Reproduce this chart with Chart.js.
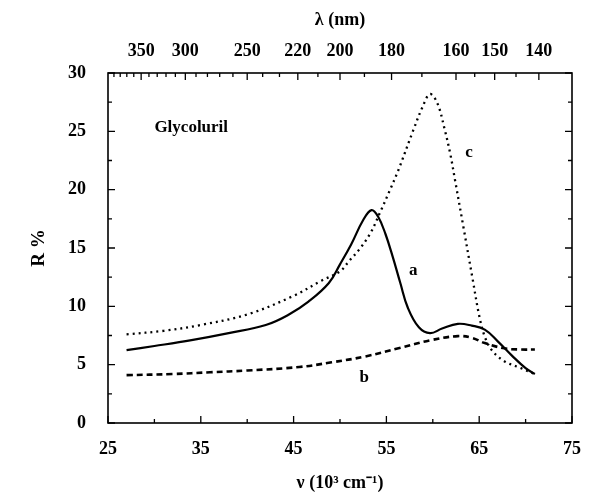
<!DOCTYPE html>
<html>
<head>
<meta charset="utf-8">
<script src="https://cdn.jsdelivr.net/npm/chart.js@4"></script>
<style>
  html, body { margin: 0; padding: 0; background: #fff; }
  #wrap { width: 589px; height: 498px; }
</style>
</head>
<body>
<div id="wrap"><canvas id="chart" width="589" height="498"></canvas></div>
<script>
// curve a (solid)
const aX = [27, 30, 34, 38, 42, 44.5, 46.6, 48.8, 50.0, 51.2, 52.5, 53.4, 54.1, 54.9, 55.7, 56.5, 57.3, 58.5, 59.7, 61.0, 62.7, 64.2, 65.6, 67.0, 68.5, 70.0, 71.0];
const aY = [6.25, 6.6, 7.1, 7.7, 8.4, 9.3, 10.4, 12.0, 13.6, 15.3, 17.4, 18.25, 17.7, 16.2, 14.2, 12.0, 9.9, 8.2, 7.7, 8.1, 8.5, 8.35, 8.0, 7.0, 5.8, 4.7, 4.2];
// curve b (dashed)
const bX = [27, 32, 36, 40, 45.6, 49.1, 52.7, 56.3, 59.8, 62.7, 64.2, 65.6, 67.7, 69.5, 71];
const bY = [4.1, 4.2, 4.35, 4.5, 4.8, 5.2, 5.7, 6.4, 7.1, 7.45, 7.3, 6.85, 6.4, 6.3, 6.3];
// curve c (dotted)
const cX = [27, 31, 35, 40, 45, 48, 50, 51, 52.2, 53.3, 54.4, 55.4, 56.3, 57.9, 58.9, 59.7, 60.5, 61.3, 61.9, 62.4, 63.3, 64.3, 65.0, 65.6, 66.4, 67.7, 69.5, 71];
const cY = [7.6, 7.9, 8.4, 9.3, 10.9, 12.2, 13.0, 13.9, 15.0, 16.3, 18.2, 20.0, 21.7, 25.1, 27.1, 28.2, 27.4, 25.1, 23.0, 20.8, 16.8, 12.3, 9.2, 7.4, 6.2, 5.3, 4.7, 4.2];

// axis ticks
const nuTicks = [25, 35, 45, 55, 65, 75];
const nuMinor = [30, 40, 50, 60, 70];
const rTicks = [0, 5, 10, 15, 20, 25, 30];
const rMinor = [2.5, 7.5, 12.5, 17.5, 22.5, 27.5];
const lambdaTicks = [350, 300, 250, 220, 200, 180, 160, 150, 140];
const lambdaMinor = [390, 380, 370, 360, 340, 330, 320, 310, 290, 280, 270, 260, 240, 230, 210, 190, 170, 155, 145];

const curveLabels = [
  { text: "Glycoluril", x: 30.0, y: 25.3, align: "left" },
  { text: "a", x: 57.9, y: 13.1, align: "center" },
  { text: "b", x: 52.6, y: 3.9, align: "center" },
  { text: "c", x: 63.9, y: 23.2, align: "center" }
];

const toPts = (xs, ys) => xs.map((x, i) => ({ x: x, y: ys[i] }));
const font = { family: "'Liberation Serif', 'Times New Roman', serif", weight: "bold", size: 18 };
const titleFont = { family: "'Liberation Serif', 'Times New Roman', serif", weight: "bold", size: 19 };

const frame = {
  id: "frame",
  afterDraw(chart) {
    const ctx = chart.ctx;
    const area = chart.chartArea;
    const sx = chart.scales.x, sy = chart.scales.y;
    ctx.save();
    ctx.strokeStyle = "#000";
    ctx.lineWidth = 1.6;
    ctx.strokeRect(area.left, area.top, area.right - area.left, area.bottom - area.top);
    ctx.lineWidth = 1.3;
    ctx.beginPath();
    const tickX = (v, len, top) => {
      const p = sx.getPixelForValue(v);
      if (top) { ctx.moveTo(p, area.top); ctx.lineTo(p, area.top + len); }
      else { ctx.moveTo(p, area.bottom); ctx.lineTo(p, area.bottom - len); }
    };
    const tickY = (v, len) => {
      const p = sy.getPixelForValue(v);
      ctx.moveTo(area.left, p); ctx.lineTo(area.left + len, p);
      ctx.moveTo(area.right, p); ctx.lineTo(area.right - len, p);
    };
    nuTicks.forEach(v => tickX(v, 7, false));
    nuMinor.forEach(v => tickX(v, 4, false));
    lambdaTicks.forEach(l => tickX(10000 / l, 7, true));
    lambdaMinor.forEach(l => tickX(10000 / l, 4, true));
    rTicks.forEach(v => tickY(v, 7));
    rMinor.forEach(v => tickY(v, 4));
    ctx.stroke();

    ctx.fillStyle = "#000";
    ctx.font = "bold 17px 'Liberation Serif', serif";
    ctx.textBaseline = "middle";
    curveLabels.forEach(l => {
      ctx.textAlign = l.align;
      ctx.fillText(l.text, sx.getPixelForValue(l.x), sy.getPixelForValue(l.y));
    });
    ctx.restore();
  }
};

new Chart(document.getElementById("chart"), {
  type: "scatter",
  data: {
    datasets: [
      { label: "a", data: toPts(aX, aY), showLine: true, borderColor: "#000", borderWidth: 2.2, pointRadius: 0, tension: 0.4 },
      { label: "b", data: toPts(bX, bY), showLine: true, borderColor: "#000", borderWidth: 2.6, borderDash: [6, 4], pointRadius: 0, tension: 0.4 },
      { label: "c", data: toPts(cX, cY), showLine: true, borderColor: "#000", borderWidth: 2.3, borderDash: [2, 4], pointRadius: 0, tension: 0.35 }
    ]
  },
  options: {
    responsive: false,
    animation: false,
    layout: { padding: { left: 24, right: 14, top: 6, bottom: 0 } },
    plugins: { legend: { display: false }, tooltip: { enabled: false } },
    scales: {
      x: {
        type: "linear", position: "bottom", min: 25, max: 75,
        afterBuildTicks: (s) => { s.ticks = nuTicks.map(v => ({ value: v })); },
        afterFit: (s) => { s.height = 75; },
        grid: { display: false },
        border: { display: false },
        ticks: { color: "#000", font: font, padding: 8, maxRotation: 0 },
        title: { display: true, text: "ν (10³ cm⁻¹)", color: "#000", font: font, padding: { top: 8 } }
      },
      x2: {
        type: "linear", position: "top", min: 25, max: 75,
        afterBuildTicks: (s) => { s.ticks = lambdaTicks.map(l => ({ value: 10000 / l })); },
        afterFit: (s) => { s.height = 67; },
        grid: { display: false },
        border: { display: false },
        ticks: { color: "#000", font: font, padding: 3, maxRotation: 0, autoSkip: false,
          callback: (v) => String(Math.round(10000 / v)) },
        title: { display: true, text: "λ (nm)", color: "#000", font: font, padding: { bottom: 8 } }
      },
      y: {
        min: 0, max: 30,
        afterBuildTicks: (s) => { s.ticks = rTicks.map(v => ({ value: v })); },
        afterFit: (s) => { s.width = 84; },
        grid: { display: false },
        border: { display: false },
        ticks: { color: "#000", font: font, padding: 14 },
        title: { display: true, text: "R %", color: "#000", font: titleFont, padding: { bottom: 10 } }
      }
    }
  },
  plugins: [frame]
});
</script>
</body>
</html>
